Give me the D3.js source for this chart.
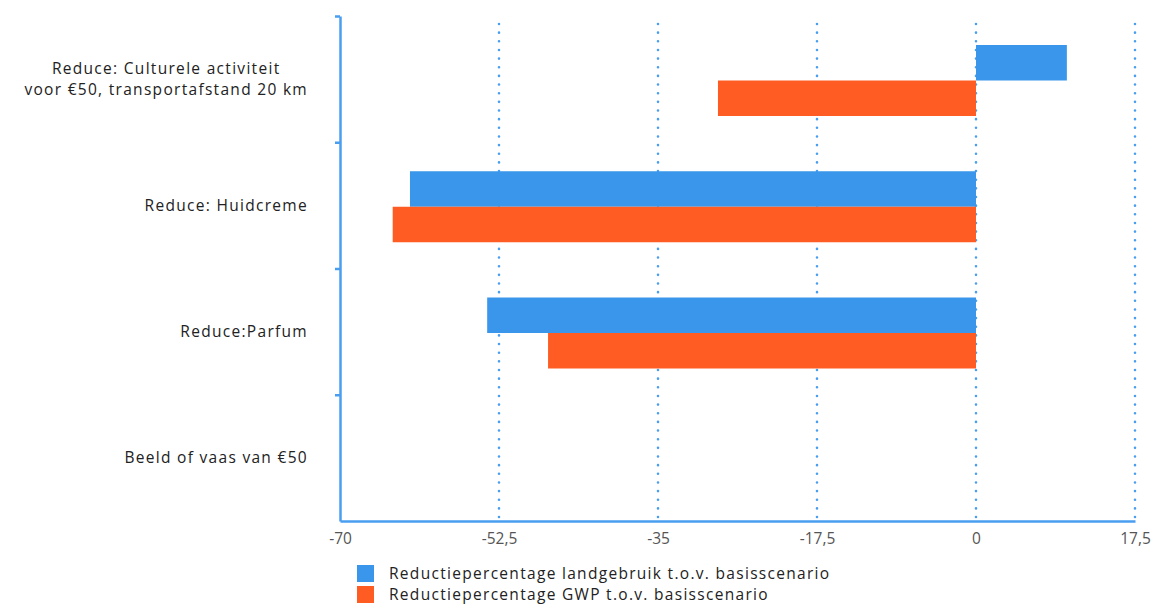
<!DOCTYPE html>
<html>
<head>
<meta charset="utf-8">
<script src="https://cdn.jsdelivr.net/npm/d3@7"></script>
<style>
  body { margin: 0; background: #fff; }
  text { font-family: "Open Sans", Lato, sans-serif; letter-spacing: 1.3px; }
  .xAxis text { letter-spacing: 0; }
</style>
</head>
<body>
<div id="chart-area"></div>
<script>
// data
var categories = [
    ["Reduce: Culturele activiteit", "voor €50, transportafstand 20 km"],
    ["Reduce: Huidcreme"],
    ["Reduce:Parfum"],
    ["Beeld of vaas van €50"]
];
var seriesNames = [
    "Reductiepercentage landgebruik t.o.v. basisscenario",
    "Reductiepercentage GWP t.o.v. basisscenario"
];
var landgebruik = [10, -62.3, -53.8, 0];
var gwp = [-28.4, -64.2, -47.1, 0];
var xTicks = [-70, -52.5, -35, -17.5, 0, 17.5];

var colors = ["#3996ea", "#ff5c24"];
var axisColor = "#4a9ef0";
var fontSize = "15.5px";

var width = 1151, height = 606;
var svg = d3.select("#chart-area").append("svg")
    .attr("width", width)
    .attr("height", height);

// scales
var x = d3.scaleLinear().domain([-70, 17.5]).range([340, 1135]);
var y = d3.scaleBand().domain(d3.range(categories.length)).range([16, 521]);
var ySub = d3.scaleBand().domain([0, 1]).range([29, 100]);
var yTick = d3.scaleLinear().domain([0, categories.length]).range([16, 521]);

// dotted grid
svg.append("g").selectAll("line")
    .data(xTicks.slice(1))
    .enter().append("line")
    .attr("x1", d => x(d)).attr("x2", d => x(d))
    .attr("y1", 24).attr("y2", 521)
    .attr("stroke", axisColor)
    .attr("stroke-width", 2.6)
    .attr("stroke-linecap", "round")
    .attr("stroke-dasharray", "0 8.65");

// bars
var rows = categories.map((c, i) => [landgebruik[i], gwp[i]]);
var group = svg.append("g").selectAll("g")
    .data(rows)
    .enter().append("g")
    .attr("transform", (d, i) => "translate(0," + y(i) + ")");
group.selectAll("rect")
    .data(d => d)
    .enter().append("rect")
    .attr("x", d => x(Math.min(0, d)))
    .attr("width", d => Math.abs(x(d) - x(0)))
    .attr("y", (d, j) => ySub(j))
    .attr("height", ySub.bandwidth())
    .attr("fill", (d, j) => colors[j]);

// x axis
var xAxisCall = d3.axisBottom(x)
    .tickValues(xTicks)
    .tickSize(0)
    .tickPadding(12)
    .tickFormat(d => String(d).replace(".", ","));
var xAxis = svg.append("g")
    .attr("class", "xAxis")
    .attr("transform", "translate(0,521)")
    .call(xAxisCall);
xAxis.select(".domain").attr("stroke", axisColor).attr("stroke-width", 2.5);
xAxis.selectAll("text").attr("fill", "#555").style("font-size", fontSize);

// y axis
var yAxisCall = d3.axisLeft(yTick)
    .tickValues(d3.range(categories.length))
    .tickSize(5)
    .tickSizeOuter(0)
    .tickFormat("");
var yAxis = svg.append("g")
    .attr("transform", "translate(340,0)")
    .call(yAxisCall);
yAxis.select(".domain").attr("stroke", axisColor).attr("stroke-width", 2.5);
yAxis.selectAll(".tick line").attr("stroke", axisColor).attr("stroke-width", 2.5);

// category labels
var labelRight = 308;
categories.forEach(function(lines, i) {
    var g = svg.append("g");
    var cy = y(i) + y.bandwidth() / 2;
    var lh = 21;
    var texts = lines.map(function(s, k) {
        return g.append("text")
            .attr("y", cy + (k - (lines.length - 1) / 2) * lh)
            .attr("dy", "0.35em")
            .attr("text-anchor", "middle")
            .attr("fill", "#222")
            .style("font-size", fontSize)
            .text(s);
    });
    var maxW = d3.max(texts, t => t.node().getComputedTextLength());
    texts.forEach(t => t.attr("x", labelRight - maxW / 2));
});

// legend
var legend = svg.append("g").selectAll("g")
    .data(seriesNames)
    .enter().append("g")
    .attr("transform", (d, i) => "translate(357," + (565 + i * 21) + ")");
legend.append("rect")
    .attr("width", 17).attr("height", 17)
    .attr("fill", (d, i) => colors[i]);
legend.append("text")
    .attr("x", 32).attr("y", 9)
    .attr("dy", "0.35em")
    .attr("fill", "#222")
    .style("font-size", fontSize)
    .text(d => d);
</script>
</body>
</html>
